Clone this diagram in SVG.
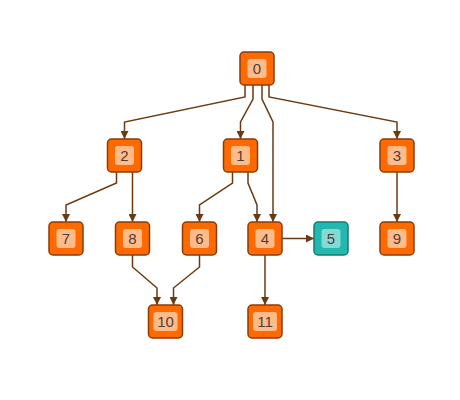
<svg xmlns="http://www.w3.org/2000/svg" width="460" height="400" viewBox="0 0 460 400">
<style>
.n rect.o{fill:#ff6a00;stroke:#8a3c08;stroke-width:1.5}
.n rect.i{fill:#ffbb8a;stroke:none}
.t rect.o{fill:#22b8b0;stroke:#137a74;stroke-width:1.5}
.t rect.i{fill:#86dad4;stroke:none}
text{font-family:"Liberation Sans",Arial,sans-serif;font-size:15px;fill:#4d4038;text-anchor:middle;dominant-baseline:central}
.e path{fill:none;stroke:#6b3a10;stroke-width:1.5}
</style>
<defs>
<marker id="a" viewBox="0 0 8 8" refX="8" refY="4" markerWidth="8" markerHeight="8" markerUnits="userSpaceOnUse" orient="auto">
<path d="M0,0 L8,4 L0,8 z" fill="#6b3a10"/>
</marker>
</defs>
<rect width="460" height="400" fill="#ffffff"/>
<g class="e">
<path d="M245,85 V97 L124.5,122 V139" marker-end="url(#a)"/>
<path d="M253,85 V99 L240.5,122 V139" marker-end="url(#a)"/>
<path d="M262,85 V99 L273,122 V222" marker-end="url(#a)"/>
<path d="M269,85 V97 L397,122 V139" marker-end="url(#a)"/>
<path d="M116.5,172 V183 L66,205 V222" marker-end="url(#a)"/>
<path d="M132.5,172 V222" marker-end="url(#a)"/>
<path d="M232.5,172 V183 L199.5,205 V222" marker-end="url(#a)"/>
<path d="M248,172 V183 L257,205 V222" marker-end="url(#a)"/>
<path d="M397,172 V222" marker-end="url(#a)"/>
<path d="M282,238.5 H314" marker-end="url(#a)"/>
<path d="M265,255 V305" marker-end="url(#a)"/>
<path d="M132.5,255 V267 L157,288 V305" marker-end="url(#a)"/>
<path d="M199.5,255 V267 L173.5,288 V305" marker-end="url(#a)"/>
</g>
<g id="node0" class="n"><rect class="o" x="240" y="52" width="34" height="33" rx="4"/><rect class="i" x="247.5" y="59" width="19" height="19" rx="3"/><text x="257" y="68.5">0</text></g>
<g id="node2" class="n"><rect class="o" x="107.5" y="139" width="34" height="33" rx="4"/><rect class="i" x="115" y="146" width="19" height="19" rx="3"/><text x="124.5" y="155.5">2</text></g>
<g id="node1" class="n"><rect class="o" x="223.5" y="139" width="34" height="33" rx="4"/><rect class="i" x="231" y="146" width="19" height="19" rx="3"/><text x="240.5" y="155.5">1</text></g>
<g id="node3" class="n"><rect class="o" x="380" y="139" width="34" height="33" rx="4"/><rect class="i" x="387.5" y="146" width="19" height="19" rx="3"/><text x="397" y="155.5">3</text></g>
<g id="node7" class="n"><rect class="o" x="49" y="222" width="34" height="33" rx="4"/><rect class="i" x="56.5" y="229" width="19" height="19" rx="3"/><text x="66" y="238.5">7</text></g>
<g id="node8" class="n"><rect class="o" x="115.5" y="222" width="34" height="33" rx="4"/><rect class="i" x="123" y="229" width="19" height="19" rx="3"/><text x="132.5" y="238.5">8</text></g>
<g id="node6" class="n"><rect class="o" x="182.5" y="222" width="34" height="33" rx="4"/><rect class="i" x="190" y="229" width="19" height="19" rx="3"/><text x="199.5" y="238.5">6</text></g>
<g id="node4" class="n"><rect class="o" x="248" y="222" width="34" height="33" rx="4"/><rect class="i" x="255.5" y="229" width="19" height="19" rx="3"/><text x="265" y="238.5">4</text></g>
<g id="node5" class="t"><rect class="o" x="314" y="222" width="34" height="33" rx="4"/><rect class="i" x="321.5" y="229" width="19" height="19" rx="3"/><text x="331" y="238.5">5</text></g>
<g id="node9" class="n"><rect class="o" x="380" y="222" width="34" height="33" rx="4"/><rect class="i" x="387.5" y="229" width="19" height="19" rx="3"/><text x="397" y="238.5">9</text></g>
<g id="node10" class="n"><rect class="o" x="148.5" y="305" width="34" height="33" rx="4"/><rect class="i" x="153.5" y="312" width="24" height="19" rx="3"/><text x="165.5" y="321.5">10</text></g>
<g id="node11" class="n"><rect class="o" x="248" y="305" width="34" height="33" rx="4"/><rect class="i" x="253" y="312" width="24" height="19" rx="3"/><text x="265" y="321.5">11</text></g>
</svg>
